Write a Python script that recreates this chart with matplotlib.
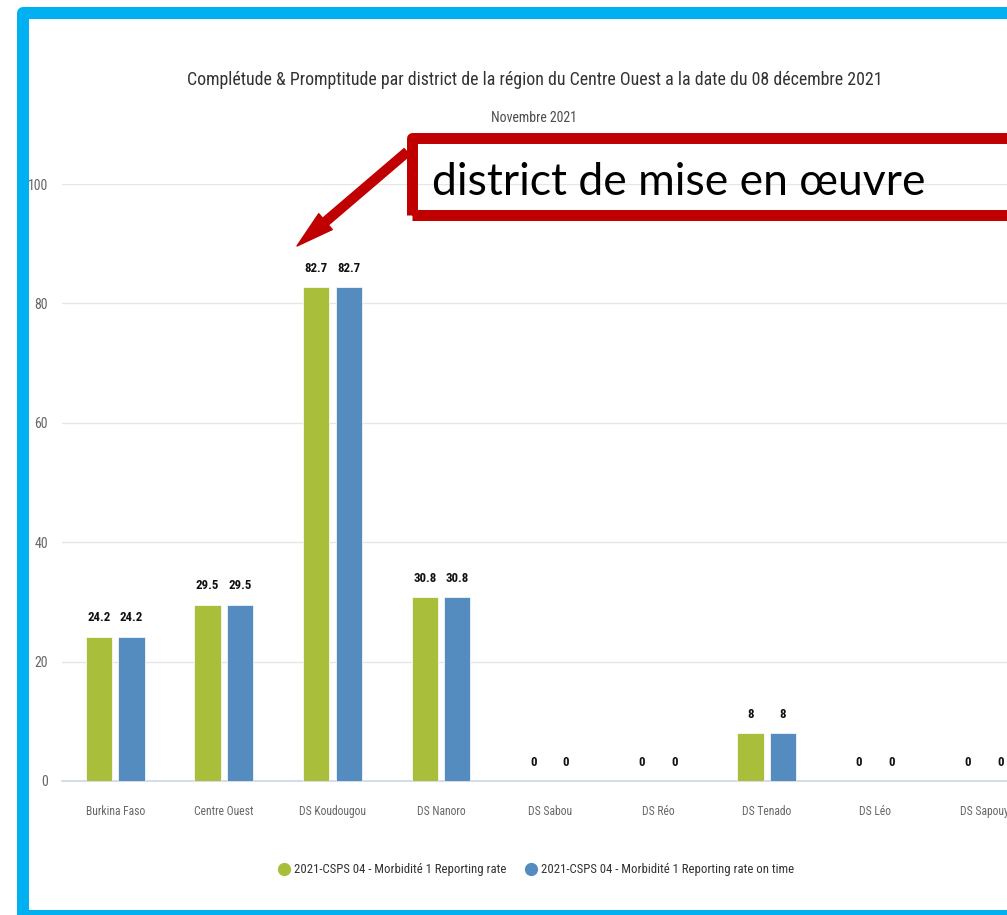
import matplotlib
matplotlib.use("Agg")
import matplotlib.pyplot as plt
from matplotlib import font_manager
from matplotlib.patches import Rectangle, FancyArrowPatch
from matplotlib.lines import Line2D
import numpy as np

# ---------------- data ----------------
categories = ["Burkina Faso", "Centre Ouest", "DS Koudougou", "DS Nanoro",
              "DS Sabou", "DS Réo", "DS Tenado", "DS Léo", "DS Sapouy"]
reporting_rate = [24.2, 29.5, 82.7, 30.8, 0, 0, 8, 0, 0]
reporting_rate_on_time = [24.2, 29.5, 82.7, 30.8, 0, 0, 8, 0, 0]
series_names = ["2021-CSPS 04 - Morbidité 1 Reporting rate",
                "2021-CSPS 04 - Morbidité 1 Reporting rate on time"]
series_colors = ["#a9be3b", "#558cc0"]
y_ticks = [0, 20, 40, 60, 80, 100]
title = ("Complétude & Promptitude par district de la région du Centre Ouest "
         "a la date du 08 décembre 2021")
subtitle = "Novembre 2021"
callout = "district de mise en œuvre"

# ---------------- fonts ----------------
avail = {f.name for f in font_manager.fontManager.ttflist}
if "Roboto Condensed" in avail:
    CF = ["Roboto Condensed", "DejaVu Sans"]
elif "Liberation Sans Narrow" in avail:
    CF = ["Liberation Sans Narrow", "DejaVu Sans"]
else:
    CF = ["Roboto", "DejaVu Sans"]
plt.rcParams["font.family"] = CF

W, H = 1007, 915
fig = plt.figure(figsize=(W / 100, H / 100), dpi=100)
fig.patch.set_facecolor("white")


def fx(x):
    return x / W


def fy(y):
    return 1 - y / H


ax = fig.add_axes([fx(62), fy(781), fx(1007) - fx(62), fy(184) - fy(781)])
x = np.arange(len(categories))
bw, off = 0.24, 0.15
b1 = ax.bar(x - off, reporting_rate, bw, color=series_colors[0],
            edgecolor="white", linewidth=0.5, zorder=3)
b2 = ax.bar(x + off, reporting_rate_on_time, bw, color=series_colors[1],
            edgecolor="white", linewidth=0.5, zorder=3)

for bars, vals in ((b1, reporting_rate), (b2, reporting_rate_on_time)):
    for rect, v in zip(bars, vals):
        ax.annotate(f"{v:g}", (rect.get_x() + rect.get_width() / 2, v),
                    xytext=(0, 9), textcoords="offset points",
                    ha="center", va="bottom", fontsize=9.3,
                    fontweight="bold", color="#111111",
                    annotation_clip=False)

ax.set_xlim(-0.49, -0.49 + (1007 - 62) / 108.6)
ax.set_ylim(0, 100)
ax.set_yticks(y_ticks)
ax.set_xticks(x)
ax.set_xticklabels(categories)
ax.grid(axis="y", color="#e6e6e6", linewidth=1.0, zorder=0)
ax.set_axisbelow(True)
for s in ("top", "right", "left"):
    ax.spines[s].set_visible(False)
ax.spines["bottom"].set_color("#ccd6eb")
ax.spines["bottom"].set_linewidth(1.2)
ax.tick_params(axis="x", length=0, pad=17, colors="#666666", labelsize=8.4)
ax.tick_params(axis="y", length=0, pad=10, colors="#666666", labelsize=10)

# titles
fig.text(fx(535), fy(80), title, ha="center", va="center",
         fontsize=12.9, color="#333333")
fig.text(fx(534), fy(118), subtitle, ha="center", va="center",
         fontsize=10, color="#4d4d4d")

# legend
handles = [Line2D([], [], marker="o", ls="", markersize=8.5,
                  color=c) for c in series_colors]
fig.legend(handles, series_names, loc="center",
           bbox_to_anchor=(fx(536), fy(870)), ncol=2, frameon=False,
           fontsize=9.2, labelcolor="#333333", handletextpad=0.3,
           columnspacing=1.4, handlelength=1.0)

# callout box
red = "#C00000"
fig.add_artist(Rectangle((fx(412), fy(215)), fx(1040) - fx(412),
                         fy(137.5) - fy(215), transform=fig.transFigure,
                         fill=False, edgecolor=red, linewidth=7.9,
                         joinstyle="round", clip_on=False, zorder=10))
fig.text(fx(432), fy(195), callout, ha="left", va="baseline",
         fontsize=32, color="black",
         family=["Lato", "DejaVu Sans"], zorder=11)
fig.add_artist(FancyArrowPatch(
    (fx(407), fy(152)), (fx(297), fy(246)), transform=fig.transFigure,
    arrowstyle="simple,head_length=1.35,head_width=0.75,tail_width=0.32",
    mutation_scale=20, color=red, shrinkA=0, shrinkB=0, zorder=10))

# outer frame
fig.add_artist(Rectangle((fx(23), fy(916)), fx(1100) - fx(23),
                         fy(13) - fy(916), transform=fig.transFigure,
                         fill=False, edgecolor="#00B0F0", linewidth=8.64,
                         joinstyle="round", clip_on=False, zorder=12))

fig.savefig("out.png", dpi=100)
